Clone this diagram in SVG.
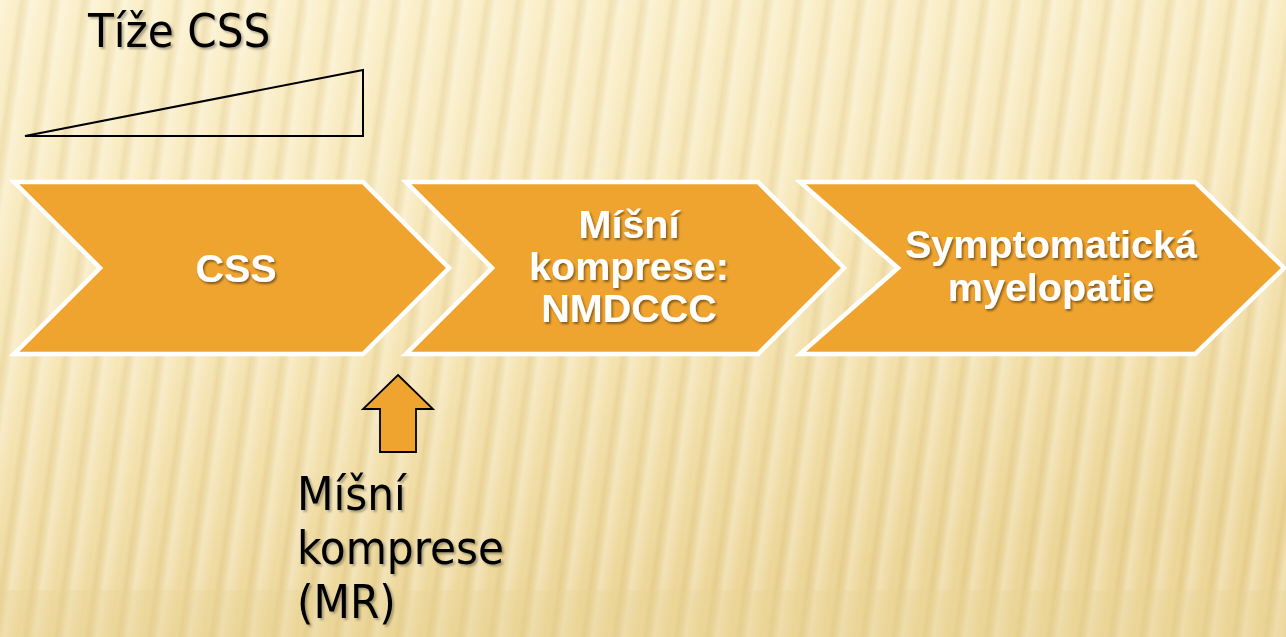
<svg xmlns="http://www.w3.org/2000/svg" width="1286" height="637" viewBox="0 0 1286 637">
  <defs>
    <linearGradient id="bg" x1="0" y1="0" x2="0.3" y2="1">
      <stop offset="0" stop-color="#FBF0CB"/>
      <stop offset="0.5" stop-color="#F7E7B8"/>
      <stop offset="1" stop-color="#ECD596"/>
    </linearGradient>
    <linearGradient id="stripeGrad" x1="0" y1="0" x2="1" y2="0">
      <stop offset="0" stop-color="#FFFFFF" stop-opacity="0.3"/>
      <stop offset="0.45" stop-color="#FFFFFF" stop-opacity="0"/>
      <stop offset="0.7" stop-color="#C8A85A" stop-opacity="0.18"/>
      <stop offset="1" stop-color="#FFFFFF" stop-opacity="0.3"/>
    </linearGradient>
    <pattern id="stripes" width="31" height="40" patternUnits="userSpaceOnUse" patternTransform="skewX(-8)">
      <rect width="31" height="40" fill="url(#stripeGrad)"/>
    </pattern>
    <filter id="shW" x="-10%" y="-20%" width="130%" height="150%">
      <feDropShadow dx="1.5" dy="2" stdDeviation="1" flood-color="#000" flood-opacity="0.45"/>
    </filter>
    <filter id="shD" x="-10%" y="-20%" width="130%" height="150%">
      <feDropShadow dx="2" dy="2" stdDeviation="1.2" flood-color="#000" flood-opacity="0.3"/>
    </filter>
  </defs>
  <style>
    .chev { fill: #EFA42F; stroke: #FFFFFF; stroke-width: 4.5; stroke-linejoin: miter; }
    .wt { font-family: "Liberation Sans", Arial, sans-serif; font-weight: bold; font-size: 39.5px; fill: #FFFFFF; text-anchor: middle; filter: url(#shW); }
    .dt { font-family: "DejaVu Sans Condensed", "DejaVu Sans", sans-serif; font-stretch: condensed; font-size: 47px; fill: #000000; filter: url(#shD); }
    .ln { fill: none; stroke: #000000; stroke-width: 2; }
  </style>

  <rect width="1286" height="637" fill="url(#bg)"/>
  <rect width="1286" height="637" fill="url(#stripes)"/>
  <rect y="590" width="1286" height="47" fill="#E9D395" opacity="0.3"/>

  <g id="title">
    <text class="dt" x="88" y="47">Tíže CSS</text>
  </g>

  <g id="wedge">
    <path class="ln" d="M25,136 L363,70 L363,136 Z"/>
  </g>

  <g id="node-css">
    <polygon class="chev" points="14,182 363,182 449,268 363,354 14,354 100,268"/>
    <text class="wt" x="236" y="282">CSS</text>
  </g>

  <g id="node-misni">
    <polygon class="chev" points="406,182 758,182 844,268 758,354 406,354 492,268"/>
    <text class="wt" x="629" y="238">Míšní</text>
    <text class="wt" x="629" y="280">komprese:</text>
    <text class="wt" x="629" y="322">NMDCCC</text>
  </g>

  <g id="node-symp">
    <polygon class="chev" points="800,182 1195,182 1284,268 1195,354 800,354 898,268"/>
    <text class="wt" x="1051" y="258">Symptomatická</text>
    <text class="wt" x="1051" y="301">myelopatie</text>
  </g>

  <g id="connectors">
    <polygon points="398,375 433,409 416,409 416,452 380,452 380,409 363,409" fill="#EFA42F" stroke="#000000" stroke-width="1.8" stroke-linejoin="miter"/>
  </g>

  <g id="label-mr">
    <text class="dt" x="297" y="510">Míšní</text>
    <text class="dt" x="297" y="564">komprese</text>
    <text class="dt" x="297" y="618">(MR)</text>
  </g>
</svg>
